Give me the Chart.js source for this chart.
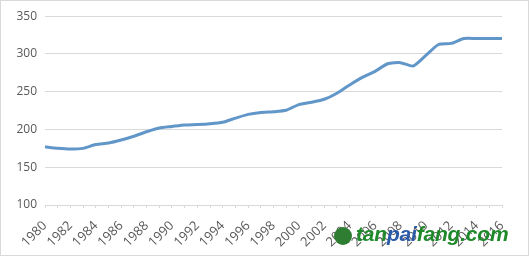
<!DOCTYPE html>
<html>
<head>
<meta charset="utf-8">
<script src="https://cdn.jsdelivr.net/npm/chart.js@4/dist/chart.umd.min.js"></script>
<style>
  html, body { margin: 0; padding: 0; background: #fff; }
  #wrap { position: relative; width: 527px; height: 254px; border: 1px solid #d9d9d9; }
  #logo { position: absolute; left: 333px; top: 226px; width: 18px; height: 18px; border-radius: 50%; background: #2f7d32; }
  #mark { position: absolute; left: 355px; top: 221px; font: italic bold 21px "Liberation Sans", Arial, sans-serif; color: #1f8a2a; letter-spacing: -0.2px; }
  #mark span { color: #2a5aa8; }
</style>
</head>
<body>
<div id="wrap">
  <canvas id="chart" width="527" height="254"></canvas>
  <div id="logo"></div>
  <div id="mark">tan<span>pai</span>fang.com</div>
</div>
<script>
const years = [];
for (let y = 1980; y <= 2016; y++) years.push(String(y));

const values = [177, 175, 174, 175, 180, 182, 186, 191, 197, 202, 204, 206,
                206.5, 207.5, 209.5, 215, 220, 222.5, 223.5, 225.5, 233, 236,
                240, 248, 259, 269, 277, 287, 288.5, 284, 298, 312.5, 314,
                320.5, 320.5, 320.5, 320.5];

const yTicks = [100, 150, 200, 250, 300, 350];

const chart = new Chart(document.getElementById('chart'), {
    type: 'line',
    data: {
        labels: years,
        datasets: [{
            data: values,
            borderColor: '#6196c8',
            borderWidth: 3,
            pointRadius: 0,
            fill: false,
            tension: 0.2
        }]
    },
    options: {
        responsive: false,
        animation: false,
        layout: { padding: { top: 8, right: 26, left: 4, bottom: 0 } },
        plugins: { legend: { display: false }, tooltip: { enabled: false } },
        scales: {
            x: {
                offset: false,
                // keep every other year label slanted like the original
                afterCalculateLabelRotation: axis => { axis.labelRotation = 45; },
                afterFit: axis => { axis.height = 50; },
                grid: { drawOnChartArea: false, color: '#d9d9d9', tickLength: 3 },
                border: { color: '#d9d9d9' },
                ticks: {
                    autoSkip: false,
                    color: '#595959',
                    font: { family: 'Open Sans', size: 13 },
                    padding: 10,
                    callback: (v, i) => i % 2 === 0 ? years[i] : ''
                }
            },
            y: {
                min: yTicks[0],
                max: yTicks[yTicks.length - 1],
                afterBuildTicks: axis => { axis.ticks = yTicks.map(v => ({ value: v })); },
                afterFit: axis => { axis.width = 40; },
                grid: { color: '#d9d9d9', drawTicks: false },
                border: { display: false },
                ticks: {
                    color: '#595959',
                    font: { family: 'Open Sans', size: 12 },
                    padding: 8
                }
            }
        }
    }
});
</script>
</body>
</html>
